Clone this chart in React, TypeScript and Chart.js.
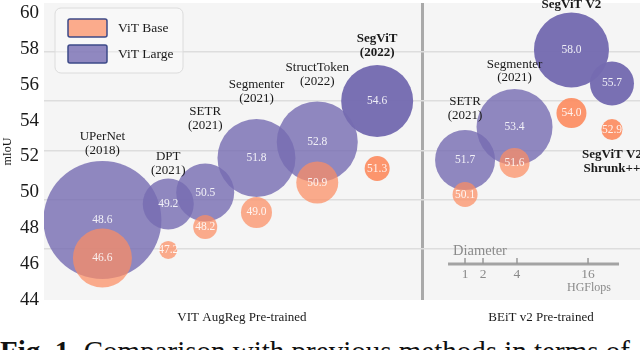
import React, { useEffect, useRef } from "react";
import { Chart, registerables, BubbleController } from "chart.js";

Chart.register(...registerables);
// bubbles are clipped to the plot area like in the figure: no extra layout padding for radius
(BubbleController.prototype as any).getMaxOverflow = function () {
  return 0;
};

// ---------- data ----------
const modelNames: string[][] = [
  ["UPerNet", "(2018)"],
  ["DPT", "(2021)"],
  ["SETR", "(2021)"],
  ["Segmenter", "(2021)"],
  ["StructToken", "(2022)"],
  ["SegViT", "(2022)"],
  ["SETR", "(2021)"],
  ["Segmenter", "(2021)"],
  ["SegViT V2"],
  ["SegViT V2", "Shrunk++"],
];
const isOurs = [false, false, false, false, false, true, false, false, true, true];
// horizontal placement of each model column (arbitrary 0-100 units)
const modelX = [9.8, 20.85, 27.05, 35.65, 45.85, 55.9, 70.65, 78.95, 88.5, 95.3];
// mIoU numbers printed in the bubbles
const largeMiou = [48.6, 49.2, 50.5, 51.8, 52.8, 54.6, 51.7, 53.4, 58.0, 55.7];
const baseMiou = [46.6, 47.2, 48.2, 49.0, 50.9, 51.3, 50.1, 51.6, 54.0, 52.9];
// bubble heights as plotted in the figure (mIoU axis units)
const largeY = [48.46, 49.35, 49.99, 51.92, 52.81, 55.09, 51.8, 53.64, 57.94, 56.07];
const baseY = [46.34, 46.79, 48.07, 48.88, 50.55, 51.33, 49.88, 51.64, 54.42, 53.5];
// bubble size (diameter-scaled FLOPs, as drawn)
const largeSize = [59, 25.5, 29, 39, 40.5, 36, 30, 38, 37.5, 22];
const baseSize = [29.5, 9, 12, 15.5, 21, 12.5, 12.5, 15, 15, 10.5];
// model name label heights (mIoU units)
const nameY = [53.09, 51.97, 54.48, 55.98, 56.93, 58.55, 55.04, 57.15, 60.44, 52.08];

const yTicks = [44, 46, 48, 50, 52, 54, 56, 58, 60];
const gridValues = [46.84, 49.57, 52.31, 55.09, 57.82];
const sectionLabels = ["VIT AugReg Pre-trained", "BEiT v2 Pre-trained"];
const sectionX = [33.22, 83.39];
const separatorX = 63.59;
const seriesNames = ["ViT Base", "ViT Large"];

// diameter legend
const diameterTicks = ["1", "2", "4", "16"];
const diameterTickX = [70.64, 73.66, 79.36, 91.28];
const diameterLineX = [67.79, 96.48];
const diameterLineY = 46.01;
const diameterTitle = { text: "Diameter", x: 73.15, y: 46.73 };
const diameterUnit = { text: "HGFlops", x: 91.44, y: 44.67 };
const diameterTickLabelY = 45.45;

const SERIF = '"Liberation Serif", "Times New Roman", serif';
const LARGE = "117,107,177";
const BASE = "252,141,98";

const noPad = (s: any) => {
  s.paddingTop = 0;
  s.paddingBottom = 0;
  s.paddingLeft = 0;
  s.paddingRight = 0;
};

const decorPlugin = {
  id: "decor",
  beforeDraw(chart: any) {
    const { ctx, chartArea: a } = chart;
    ctx.save();
    ctx.fillStyle = "#f5f5f5";
    ctx.fillRect(a.left, a.top, a.right - a.left, a.bottom - a.top);
    ctx.restore();
  },
  afterDatasetsDraw(chart: any) {
    const { ctx } = chart;
    const xs = chart.scales.x;
    const ys = chart.scales.y;
    ctx.save();
    // values inside bubbles
    ctx.textAlign = "center";
    ctx.textBaseline = "middle";
    ctx.font = `11.5px ${SERIF}`;
    ctx.fillStyle = "rgba(255,255,255,0.88)";
    const baseMeta = chart.getDatasetMeta(0);
    const largeMeta = chart.getDatasetMeta(1);
    largeMeta.data.forEach((el: any, i: number) => {
      ctx.fillText(largeMiou[i].toFixed(1), el.x, el.y);
    });
    baseMeta.data.forEach((el: any, i: number) => {
      ctx.fillText(baseMiou[i].toFixed(1), el.x, el.y);
    });
    // model names
    ctx.fillStyle = "#1a1a1a";
    modelNames.forEach((lines, i) => {
      ctx.font = `${isOurs[i] ? "bold " : ""}13px ${SERIF}`;
      const px = xs.getPixelForValue(modelX[i]);
      const py = ys.getPixelForValue(nameY[i]);
      lines.forEach((t, j) => ctx.fillText(t, px, py + j * 13.5));
    });
    ctx.restore();
  },
  afterDraw(chart: any) {
    const { ctx, chartArea: a } = chart;
    const xs = chart.scales.x;
    const ys = chart.scales.y;
    ctx.save();
    // diameter legend
    const ly = ys.getPixelForValue(diameterLineY);
    ctx.strokeStyle = "#a3a3a3";
    ctx.lineWidth = 3;
    ctx.beginPath();
    ctx.moveTo(xs.getPixelForValue(diameterLineX[0]), ly);
    ctx.lineTo(xs.getPixelForValue(diameterLineX[1]), ly);
    ctx.stroke();
    ctx.lineWidth = 1.5;
    ctx.strokeStyle = "#999";
    diameterTickX.forEach((v) => {
      const px = xs.getPixelForValue(v);
      ctx.beginPath();
      ctx.moveTo(px, ly - 6);
      ctx.lineTo(px, ly);
      ctx.stroke();
    });
    ctx.fillStyle = "#8a8a8a";
    ctx.textAlign = "center";
    ctx.textBaseline = "middle";
    ctx.font = `14.5px ${SERIF}`;
    ctx.fillText(diameterTitle.text, xs.getPixelForValue(diameterTitle.x), ys.getPixelForValue(diameterTitle.y));
    ctx.font = `13.5px ${SERIF}`;
    diameterTicks.forEach((t, i) => {
      ctx.fillText(t, xs.getPixelForValue(diameterTickX[i]), ys.getPixelForValue(diameterTickLabelY));
    });
    ctx.font = `12px ${SERIF}`;
    ctx.fillText(diameterUnit.text, xs.getPixelForValue(diameterUnit.x), ys.getPixelForValue(diameterUnit.y));

    // series legend box
    const bx = a.left + 11;
    const by = a.top + 5;
    const bw = 128;
    const bh = 65;
    ctx.beginPath();
    ctx.roundRect(bx, by, bw, bh, 6);
    ctx.fillStyle = "rgba(255,255,255,0.35)";
    ctx.fill();
    ctx.strokeStyle = "#dcdcdc";
    ctx.lineWidth = 1;
    ctx.stroke();
    const swatch = [`rgba(${BASE},0.72)`, `rgba(${LARGE},0.8)`];
    seriesNames.forEach((name, i) => {
      const sy = by + 11 + i * 26;
      ctx.beginPath();
      ctx.roundRect(bx + 13, sy, 39, 18, 2);
      ctx.fillStyle = swatch[i];
      ctx.fill();
      ctx.strokeStyle = "#3d4a88";
      ctx.lineWidth = 1.5;
      ctx.stroke();
      ctx.fillStyle = "#1a1a1a";
      ctx.textAlign = "left";
      ctx.font = `13.5px ${SERIF}`;
      ctx.fillText(name, bx + 63, sy + 9.5);
    });
    ctx.restore();
  },
};

export default function App() {
  const ref = useRef<HTMLCanvasElement | null>(null);

  useEffect(() => {
    document.body.style.margin = "0";
    if (!ref.current) return;
    Chart.defaults.font.family = SERIF;
    const chart = new Chart(ref.current, {
      type: "bubble",
      data: {
        datasets: [
          {
            label: seriesNames[0],
            data: modelX.map((x, i) => ({ x, y: baseY[i], r: baseSize[i] })),
            backgroundColor: isOurs.map((o) => (o ? `rgba(${BASE},0.93)` : `rgba(${BASE},0.72)`)),
            borderWidth: 0,
          },
          {
            label: seriesNames[1],
            data: modelX.map((x, i) => ({ x, y: largeY[i], r: largeSize[i] })),
            backgroundColor: isOurs.map((o) => (o ? `rgba(${LARGE},0.97)` : `rgba(${LARGE},0.8)`)),
            borderWidth: 0,
          },
        ],
      },
      options: {
        responsive: false,
        animation: false,
        events: [],
        layout: { padding: { top: 3, left: 0, right: 0, bottom: 0 } },
        plugins: { legend: { display: false }, tooltip: { enabled: false } },
        scales: {
          x: {
            type: "linear",
            min: 0,
            max: 100,
            position: "bottom",
            afterBuildTicks: (s: any) => {
              s.ticks = [...sectionX, separatorX].map((v) => ({ value: v }));
            },
            afterFit: (s: any) => {
              s.height = 30;
              noPad(s);
            },
            ticks: {
              autoSkip: false,
              maxRotation: 0,
              padding: 10,
              color: "#1a1a1a",
              font: { size: 13 },
              callback: (_v: any, i: number) => sectionLabels[i] ?? "",
            },
            grid: {
              drawTicks: false,
              lineWidth: 3,
              color: (c: any) => (c.tick && c.tick.value === separatorX ? "#a9a9a9" : "rgba(0,0,0,0)"),
            },
            border: { display: false },
          },
          y: {
            type: "linear",
            min: 44,
            max: 60.555,
            position: "left",
            afterBuildTicks: (s: any) => {
              s.ticks = yTicks.map((v) => ({ value: v }));
            },
            afterFit: (s: any) => {
              s.width = 44;
              noPad(s);
            },
            ticks: { color: "#1a1a1a", font: { size: 19 }, padding: 5 },
            grid: { display: false, drawTicks: false },
            border: { display: false },
            title: {
              display: true,
              text: "mIoU",
              color: "#1a1a1a",
              font: { size: 12 },
              padding: { top: 1, bottom: 0 },
            },
          },
          yGrid: {
            type: "linear",
            min: 44,
            max: 60.555,
            position: "left",
            afterBuildTicks: (s: any) => {
              s.ticks = gridValues.map((v) => ({ value: v }));
            },
            afterFit: (s: any) => {
              s.width = 0;
              noPad(s);
            },
            ticks: { display: false },
            grid: { color: "#dddddd", lineWidth: 1.5, drawTicks: false },
            border: { display: false },
          },
        },
      } as any,
      plugins: [decorPlugin],
    });
    return () => chart.destroy();
  }, []);

  return (
    <div
      style={{
        position: "fixed",
        left: 0,
        top: 0,
        width: 640,
        height: 350,
        overflow: "hidden",
        background: "#fff",
      }}
    >
      <canvas ref={ref} width={640} height={330} style={{ position: "absolute", left: 0, top: 0 }} />
      <div
        style={{
          position: "absolute",
          left: 0,
          top: 337,
          whiteSpace: "nowrap",
          fontFamily: SERIF,
          fontSize: 29,
          lineHeight: 1,
          color: "#111",
        }}
      >
        <b>Fig. 1.</b> Comparison with previous methods in terms of
      </div>
    </div>
  );
}
